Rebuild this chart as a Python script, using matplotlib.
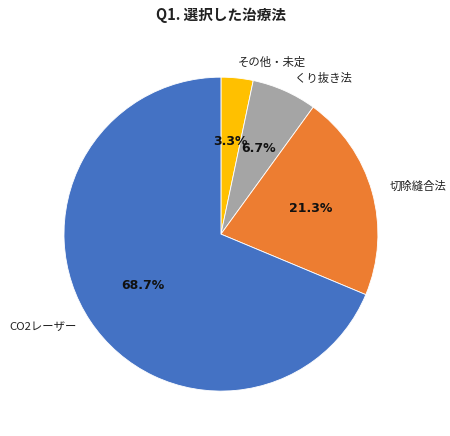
import matplotlib
matplotlib.use("Agg")
import matplotlib.pyplot as plt

plt.rcParams['font.family'] = ['Noto Sans CJK JP', 'DejaVu Sans']

categories = ['その他・未定', 'くり抜き法', '切除縫合法', 'CO2レーザー']
values = [3.3, 6.7, 21.3, 68.7]
colors = ['#FFC000', '#A5A5A5', '#ED7D31', '#4472C4']
label_pos = [(0.325, 1.096), (0.650, 0.994), (1.255, 0.306), (-1.134, -0.592)]

fig = plt.figure(figsize=(4.5, 4.36), dpi=100)
ax = fig.add_axes([0.142, 0.103, 0.698, 0.720])
wedges, texts, autotexts = ax.pie(
    values, labels=categories, colors=colors, startangle=90, counterclock=False,
    autopct='%.1f%%', pctdistance=0.595, labeldistance=1.1,
    wedgeprops=dict(edgecolor='white', linewidth=0.6),
    textprops=dict(fontsize=8.2),
)
for t, p in zip(texts, label_pos):
    t.set_position(p)
    t.set_ha('center')
    t.set_va('center')
    t.set_color('#222222')
for a in autotexts:
    a.set_fontsize(9)
    a.set_fontweight('bold')
    a.set_family(['DejaVu Sans'])
    a.set_color('#111111')
ax.set_xlim(-1, 1)
ax.set_ylim(-1, 1)
ax.set_aspect('equal')
fig.text(0.49, 0.965, 'Q1. 選択した治療法', ha='center', va='center',
         fontsize=10.5, fontweight='bold', color='#222222')
fig.savefig('out.png', dpi=100)
